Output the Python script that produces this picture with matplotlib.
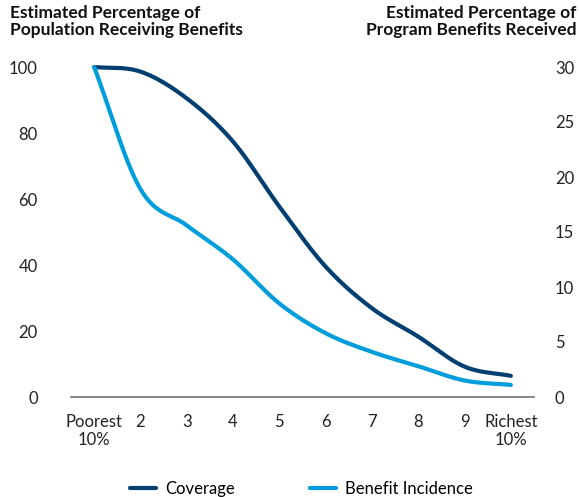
import matplotlib
matplotlib.use("Agg")
import matplotlib.pyplot as plt
import numpy as np

plt.rcParams['font.family'] = ['Lato', 'DejaVu Sans']

# deciles 1 (poorest) .. 10 (richest)
deciles = [1, 2, 3, 4, 5, 6, 7, 8, 9, 10]
tick_labels = ["Poorest\n10%", "2", "3", "4", "5", "6", "7", "8", "9", "Richest\n10%"]
coverage = [100, 98.6, 90.5, 77.4, 57.7, 39.5, 26.9, 18.3, 9.2, 6.4]          # left axis
incidence = [30, 18.9, 15.6, 12.5, 8.5, 5.8, 4.1, 2.8, 1.5, 1.1]             # right axis

navy = "#003f72"
light = "#009ddc"


def smooth(x, y, n=30):
    # Catmull-Rom curve through the points, like a smoothed line
    x = np.asarray(x, float)
    y = np.asarray(y, float)
    px = np.concatenate([[2 * x[0] - x[1]], x, [2 * x[-1] - x[-2]]])
    py = np.concatenate([[2 * y[0] - y[1]], y, [2 * y[-1] - y[-2]]])
    xs, ys = [], []
    for i in range(1, len(px) - 2):
        t = np.linspace(0, 1, n, endpoint=(i == len(px) - 3))
        for p, out in ((px, xs), (py, ys)):
            p0, p1, p2, p3 = p[i - 1], p[i], p[i + 1], p[i + 2]
            out.append(0.5 * (2 * p1 + (-p0 + p2) * t
                              + (2 * p0 - 5 * p1 + 4 * p2 - p3) * t ** 2
                              + (-p0 + 3 * p1 - 3 * p2 + p3) * t ** 3))
    return np.concatenate(xs), np.concatenate(ys)


fig = plt.figure(figsize=(5.79, 4.97), dpi=100)
ax = fig.add_axes([71 / 579, 1 - 397 / 497, (534 - 71) / 579, 330 / 497])
ax2 = ax.twinx()

cx, cy = smooth(deciles, coverage)
ix, iy = smooth(deciles, incidence)
l1, = ax.plot(cx, cy, color=navy, lw=3, solid_capstyle="round", clip_on=False, zorder=3)
l2, = ax2.plot(ix, iy, color=light, lw=3, solid_capstyle="round", clip_on=False, zorder=2)

ax.set_xlim(0.5, 10.5)
ax.set_ylim(0, 100)
ax2.set_ylim(0, 30)
ax.set_yticks([0, 20, 40, 60, 80, 100])
ax2.set_yticks([0, 5, 10, 15, 20, 25, 30])
ax.set_xticks(deciles)
ax.set_xticklabels(tick_labels)

for a in (ax, ax2):
    for s in a.spines.values():
        s.set_visible(False)
    a.tick_params(length=0, labelsize=12, colors="#222222")
ax.spines["bottom"].set_visible(True)
ax.spines["bottom"].set_color("#7f7f7f")
ax.spines["bottom"].set_linewidth(1.3)
ax.tick_params(axis="y", pad=24)
ax2.tick_params(axis="y", pad=15)
ax.tick_params(axis="x", pad=12)

fig.text(10 / 579, 1 - 5 / 497, "Estimated Percentage of\nPopulation Receiving Benefits",
         ha="left", va="top", fontsize=12.5, fontweight="bold", color="#111111", linespacing=1.1)
fig.text(576 / 579, 1 - 5 / 497, "Estimated Percentage of\nProgram Benefits Received",
         ha="right", va="top", fontsize=12.5, fontweight="bold", color="#111111", linespacing=1.1)

fig.legend([l1, l2], ["Coverage", "Benefit Incidence"], loc="lower center",
           bbox_to_anchor=(0.52, -0.03), ncol=2, frameon=False, fontsize=12,
           handlelength=1.6, columnspacing=4.5, handletextpad=0.5)

fig.savefig("out.png", dpi=100)
